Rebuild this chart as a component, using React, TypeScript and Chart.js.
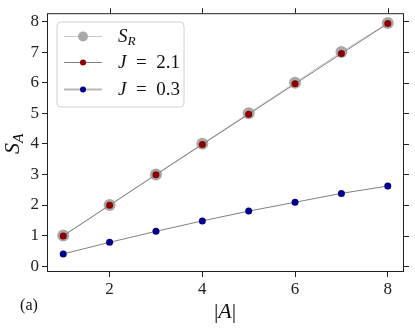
import React, { useEffect, useRef } from "react";
import { Chart, registerables } from "chart.js";

Chart.register(...registerables);

const sizesA = [1, 2, 3, 4, 5, 6, 7, 8];
const sR = [1, 2, 3, 4, 5, 6, 7, 7.95];
const j21 = [0.99, 1.99, 2.99, 3.98, 4.97, 5.96, 6.95, 7.93];
const j03 = [0.4, 0.78, 1.14, 1.48, 1.8, 2.09, 2.38, 2.62];
const xTicks = [2, 4, 6, 8];
const yTicks = [0, 1, 2, 3, 4, 5, 6, 7, 8];

const SERIF = "'Liberation Serif', 'DejaVu Serif', serif";

function drawMath(ctx: CanvasRenderingContext2D, parts: { t: string; it?: boolean; sub?: boolean }[], x: number, y: number, size: number) {
  let cx = x;
  for (const p of parts) {
    const fs = p.sub ? size * 0.7 : size;
    ctx.font = `${p.it ? "italic " : ""}${fs}px ${SERIF}`;
    ctx.fillText(p.t, cx, p.sub ? y + size * 0.25 : y);
    cx += ctx.measureText(p.t).width;
  }
  return cx - x;
}

const extrasPlugin = {
  id: "extras",
  afterDraw(chart: any) {
    const ctx: CanvasRenderingContext2D = chart.ctx;
    const { left, right, top, bottom } = chart.chartArea;
    const xs = chart.scales.x;
    const ys = chart.scales.y;
    ctx.save();
    // frame
    ctx.strokeStyle = "#222";
    ctx.lineWidth = 1;
    ctx.strokeRect(left + 0.5, top + 0.5, right - left - 1, bottom - top - 1);
    // top and right ticks
    ctx.beginPath();
    for (const v of xTicks) {
      const px = Math.round(xs.getPixelForValue(v)) + 0.5;
      ctx.moveTo(px, top);
      ctx.lineTo(px, top - 5);
    }
    for (const v of yTicks) {
      const py = Math.round(ys.getPixelForValue(v)) + 0.5;
      ctx.moveTo(right, py);
      ctx.lineTo(right + 5, py);
    }
    ctx.stroke();

    // legend
    const lx = 57, ly = 22, lw = 127, lh = 85, r = 4;
    ctx.beginPath();
    ctx.moveTo(lx + r, ly);
    ctx.arcTo(lx + lw, ly, lx + lw, ly + lh, r);
    ctx.arcTo(lx + lw, ly + lh, lx, ly + lh, r);
    ctx.arcTo(lx, ly + lh, lx, ly, r);
    ctx.arcTo(lx, ly, lx + lw, ly, r);
    ctx.closePath();
    ctx.fillStyle = "rgba(255,255,255,0.85)";
    ctx.fill();
    ctx.strokeStyle = "#d0d0d0";
    ctx.stroke();

    const rows = [
      { y: 36, line: "#c8c8c8", lwid: 1, col: "#a8a8a8", rad: 5, parts: [{ t: "S", it: true }, { t: "R", it: true, sub: true }] },
      { y: 62, line: "#808080", lwid: 1, col: "#8b0000", rad: 3, parts: [{ t: "J", it: true }, { t: "\u2002=\u20022.1" }] },
      { y: 89, line: "#b8b8b8", lwid: 2, col: "#00008b", rad: 3, parts: [{ t: "J", it: true }, { t: "\u2002=\u20020.3" }] },
    ];
    for (const row of rows) {
      ctx.strokeStyle = row.line;
      ctx.lineWidth = row.lwid;
      ctx.beginPath();
      ctx.moveTo(64, row.y + 0.5);
      ctx.lineTo(102, row.y + 0.5);
      ctx.stroke();
      ctx.fillStyle = row.col;
      ctx.beginPath();
      ctx.arc(83, row.y + 0.5, row.rad, 0, Math.PI * 2);
      ctx.fill();
      ctx.fillStyle = "#111";
      ctx.textBaseline = "middle";
      ctx.textAlign = "left";
      drawMath(ctx, row.parts, 118, row.y + 1, 19);
    }

    // axis labels
    ctx.fillStyle = "#111";
    ctx.textBaseline = "middle";
    ctx.textAlign = "left";
    ctx.font = `22px ${SERIF}`;
    const wBar = ctx.measureText("|").width;
    ctx.font = `italic 22px ${SERIF}`;
    const wA = ctx.measureText("A").width;
    const totalW = wBar * 2 + wA;
    drawMath(ctx, [{ t: "|" }, { t: "A", it: true }, { t: "|" }], 225 - totalW / 2, 312, 22);

    ctx.font = `16px ${SERIF}`;
    ctx.textAlign = "center";
    ctx.fillText("(a)", 29, 306);

    ctx.save();
    ctx.translate(13, 142);
    ctx.rotate(-Math.PI / 2);
    ctx.textAlign = "left";
    drawMath(ctx, [{ t: "S", it: true }, { t: "A", it: true, sub: true }], -12, 0, 22);
    ctx.restore();

    ctx.restore();
  },
};

export default function App() {
  const ref = useRef<HTMLCanvasElement>(null);
  useEffect(() => {
    if (!ref.current) return;
    const mk = (arr: number[]) => sizesA.map((x, i) => ({ x, y: arr[i] }));
    const chart = new Chart(ref.current, {
      type: "scatter",
      data: {
        datasets: [
          {
            label: "S_R",
            data: mk(sR),
            showLine: true,
            borderColor: "#c8c8c8",
            borderWidth: 1,
            backgroundColor: "#a8a8a8",
            pointBackgroundColor: "#a8a8a8",
            pointBorderWidth: 0,
            pointRadius: 6,
            order: 3,
          },
          {
            label: "J = 2.1",
            data: mk(j21),
            showLine: true,
            borderColor: "#808080",
            borderWidth: 1,
            pointBackgroundColor: "#8b0000",
            pointBorderWidth: 0,
            pointRadius: 3.5,
            order: 2,
          },
          {
            label: "J = 0.3",
            data: mk(j03),
            showLine: true,
            borderColor: "#808080",
            borderWidth: 1,
            pointBackgroundColor: "#00008b",
            pointBorderWidth: 0,
            pointRadius: 3.5,
            order: 1,
          },
        ],
      },
      options: {
        animation: false,
        responsive: false,
        maintainAspectRatio: false,
        layout: { padding: { left: 0, top: 12, right: 11, bottom: 0 } },
        plugins: { legend: { display: false }, tooltip: { enabled: false } },
        scales: {
          x: {
            type: "linear",
            min: 0.65,
            max: 8.35,
            afterBuildTicks: (s: any) => {
              s.ticks = xTicks.map((v) => ({ value: v }));
            },
            afterFit: (s: any) => {
              s.height = 58;
            },
            grid: { drawOnChartArea: false, drawTicks: true, tickLength: 5, color: "#222" },
            border: { display: false },
            ticks: { font: { family: SERIF, size: 17 }, color: "#222", padding: 2, maxRotation: 0 },
          },
          y: {
            type: "linear",
            min: -0.19,
            max: 8.27,
            afterBuildTicks: (s: any) => {
              s.ticks = yTicks.map((v) => ({ value: v }));
            },
            afterFit: (s: any) => {
              s.width = 47;
            },
            grid: { drawOnChartArea: false, drawTicks: true, tickLength: 5, color: "#222" },
            border: { display: false },
            ticks: { font: { family: SERIF, size: 17 }, color: "#222", padding: 3 },
          },
        },
      },
      plugins: [extrasPlugin],
    } as any);
    return () => chart.destroy();
  }, []);
  return (
    <div style={{ position: "fixed", left: 0, top: 0, width: 415, height: 330, background: "#fff" }}>
      <canvas ref={ref} width={415} height={330} style={{ width: 415, height: 330 }} />
    </div>
  );
}
